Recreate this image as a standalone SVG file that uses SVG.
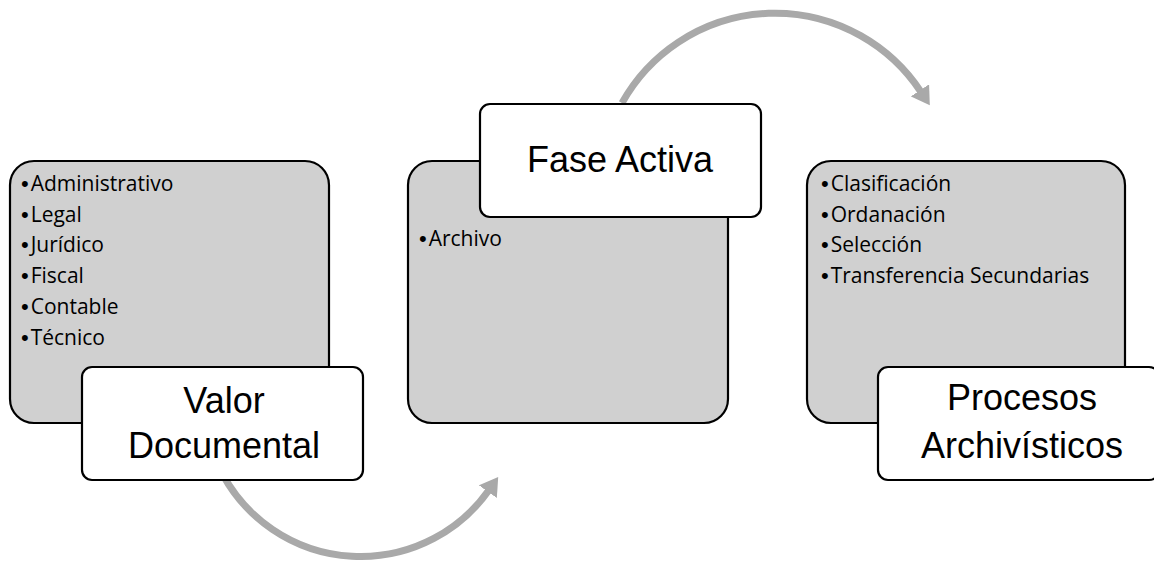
<svg xmlns="http://www.w3.org/2000/svg" width="1154" height="562" viewBox="0 0 1154 562">
<style>
.bg{fill:#ffffff}
.gray{fill:#d0d0d0;stroke:#000;stroke-width:2.2}
.white{fill:#ffffff;stroke:#000;stroke-width:2.2}
.item{font-family:"Open Sans","Liberation Sans",sans-serif;font-size:21px;fill:#000}
.b{font-family:"Liberation Sans",Arial,sans-serif;font-size:22px}
.title{font-family:"Liberation Sans",Arial,sans-serif;font-size:36px;fill:#000;text-anchor:middle}
.arc{fill:none;stroke:#a9a9a9;stroke-width:7}
</style>
<defs>
<marker id="head" markerUnits="userSpaceOnUse" markerWidth="18" markerHeight="22" viewBox="0 0 18 22" refX="2" refY="11" orient="auto">
<path d="M0,0 L18,11 L0,22 z" fill="#a9a9a9"/>
</marker>
</defs>
<rect class="bg" x="0" y="0" width="1154" height="562"/>
<g id="connectors">
<path class="arc" d="M 622 103 A 175 175 0 0 1 921 92" marker-end="url(#head)"/>
<path class="arc" d="M 223 475 A 157 157 0 0 0 489 490" marker-end="url(#head)"/>
</g>
<g id="valor">
<rect class="gray" x="10" y="161" width="319" height="262" rx="24"/>
<text class="item" x="21" y="191"><tspan class="b">•</tspan><tspan dx="2">Administrativo</tspan></text>
<text class="item" x="21" y="222"><tspan class="b">•</tspan><tspan dx="2">Legal</tspan></text>
<text class="item" x="21" y="252"><tspan class="b">•</tspan><tspan dx="2">Jurídico</tspan></text>
<text class="item" x="21" y="283"><tspan class="b">•</tspan><tspan dx="2">Fiscal</tspan></text>
<text class="item" x="21" y="314"><tspan class="b">•</tspan><tspan dx="2">Contable</tspan></text>
<text class="item" x="21" y="345"><tspan class="b">•</tspan><tspan dx="2">Técnico</tspan></text>
<rect class="white" x="82" y="367" width="281" height="113" rx="10"/>
<text class="title" x="224" y="413">Valor</text>
<text class="title" x="224" y="458">Documental</text>
</g>
<g id="fase">
<rect class="gray" x="408" y="161" width="320" height="262" rx="24"/>
<text class="item" x="419" y="246"><tspan class="b">•</tspan><tspan dx="2">Archivo</tspan></text>
<rect class="white" x="480" y="104" width="281" height="113" rx="10"/>
<text class="title" x="620" y="172">Fase Activa</text>
</g>
<g id="procesos">
<rect class="gray" x="807" y="161" width="318" height="262" rx="24"/>
<text class="item" x="821" y="191"><tspan class="b">•</tspan><tspan dx="2">Clasificación</tspan></text>
<text class="item" x="821" y="222"><tspan class="b">•</tspan><tspan dx="2">Ordanación</tspan></text>
<text class="item" x="821" y="252"><tspan class="b">•</tspan><tspan dx="2">Selección</tspan></text>
<text class="item" x="821" y="283"><tspan class="b">•</tspan><tspan dx="2">Transferencia Secundarias</tspan></text>
<rect class="white" x="878" y="367" width="281" height="113" rx="10"/>
<text class="title" x="1022" y="410">Procesos</text>
<text class="title" x="1022" y="458">Archivísticos</text>
</g>
</svg>
